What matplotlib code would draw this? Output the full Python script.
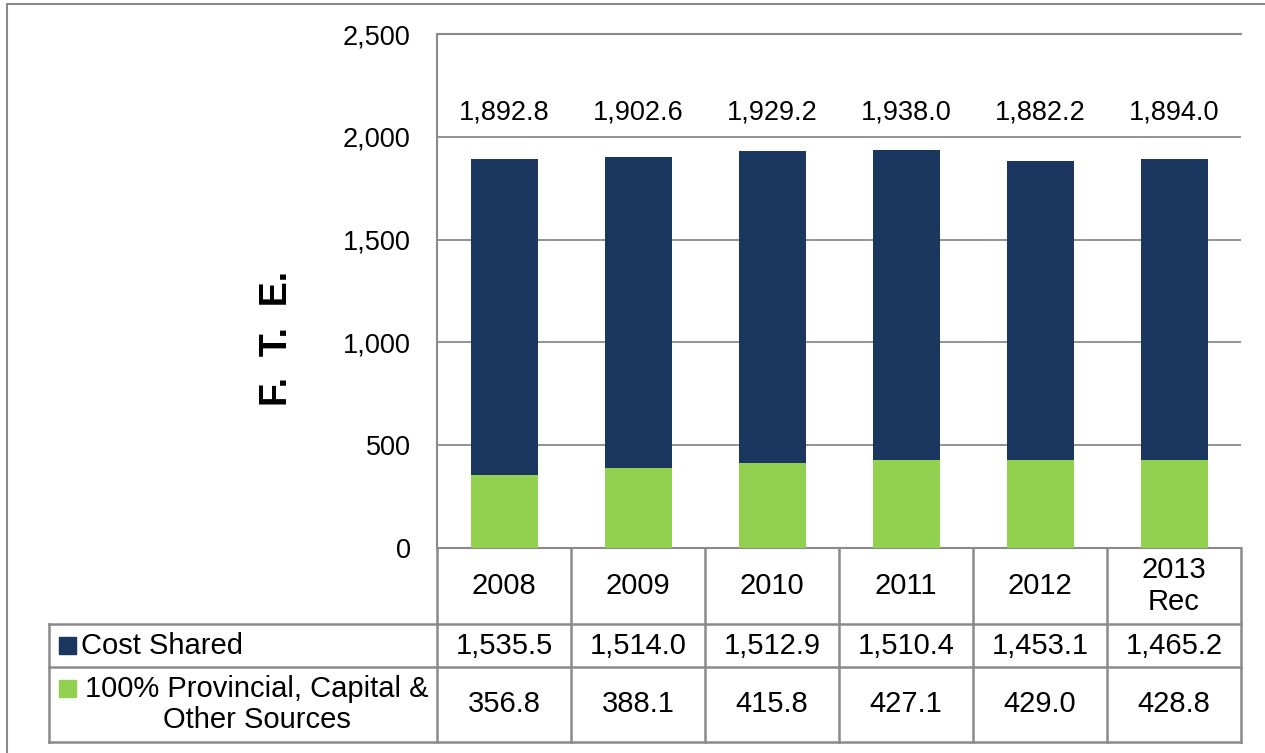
# FTE chart: stacked bars with a data table underneath
import numpy as np
import matplotlib.pyplot as plt
from matplotlib.ticker import FuncFormatter
from matplotlib.patches import Rectangle

plt.rcParams['font.family'] = ['Liberation Sans', 'DejaVu Sans']

# ---------- data ----------
years = ["2008", "2009", "2010", "2011", "2012", "2013\nRec"]
cost_shared = [1535.5, 1514.0, 1512.9, 1510.4, 1453.1, 1465.2]
provincial = [356.8, 388.1, 415.8, 427.1, 429.0, 428.8]
totals = [1892.8, 1902.6, 1929.2, 1938.0, 1882.2, 1894.0]
series_names = ["Cost Shared", "100% Provincial, Capital &\nOther Sources"]

NAVY = "#1b375f"
GREEN = "#92d050"
GRID = "#8a8a8a"
FS = 19.5      # ticks + total labels
FS_TBL = 21    # table text

W, H = 1265, 753
fig = plt.figure(figsize=(W / 100, H / 100), dpi=100)

# overlay in pixel coordinates for border + table
ov = fig.add_axes([0, 0, 1, 1])
ov.set_xlim(0, W)
ov.set_ylim(H, 0)
ov.axis("off")

# ---------- main chart ----------
left, right, top, bottom = 437, 1241, 34, 548
ax = fig.add_axes([left / W, (H - bottom) / H, (right - left) / W, (bottom - top) / H])
x = np.arange(len(years))
ax.bar(x, provincial, width=0.5, color=GREEN, zorder=3)
ax.bar(x, cost_shared, width=0.5, bottom=provincial, color=NAVY, zorder=3)

label_y = 2120
for xi, t in zip(x, totals):
    ax.text(xi, label_y, f"{t:,.1f}", ha="center", va="center", fontsize=FS)

ax.set_xlim(-0.5, len(years) - 0.5)
ax.set_ylim(0, 2500)
ax.set_yticks(np.arange(0, 2501, 500))
ax.yaxis.set_major_formatter(FuncFormatter(lambda v, p: f"{v:,.0f}"))
ax.tick_params(axis="y", length=0, labelsize=FS, pad=19)
ax.set_xticks([])
ax.grid(axis="y", color=GRID, lw=1.3, zorder=0)
for s in ["left", "top", "bottom"]:
    ax.spines[s].set_color(GRID)
    ax.spines[s].set_linewidth(1.5)
ax.spines["right"].set_visible(False)

fig.text(277 / W, 1 - 338 / H, "F.  T.  E.", rotation=90, fontsize=27,
         fontweight="bold", ha="center", va="center")

# ---------- outer border ----------
ov.plot([7, 7, W], [H, 4, 4], color=GRID, lw=1.5)

# ---------- table ----------
fig.canvas.draw()
edges = [ax.transData.transform((xi - 0.5, 0))[0] / fig.dpi * 100 for xi in range(len(years) + 1)]
tbl_left = 49
row_lines = [548, 624, 667, 742]
lc = dict(color=GRID, lw=1.8)

for yl in row_lines[1:]:
    ov.plot([tbl_left, edges[-1]], [yl, yl], **lc)
for e in edges:
    ov.plot([e, e], [row_lines[0], row_lines[-1]], **lc)
ov.plot([tbl_left, tbl_left], [row_lines[1], row_lines[-1]], **lc)

year_y = (row_lines[0] + row_lines[1]) / 2
cs_y = (row_lines[1] + row_lines[2]) / 2
pv_y = (row_lines[2] + row_lines[3]) / 2
for i, yr in enumerate(years):
    cx = (edges[i] + edges[i + 1]) / 2
    ov.text(cx, year_y, yr, ha="center", va="center", fontsize=FS_TBL, linespacing=1.15)
    ov.text(cx, cs_y, f"{cost_shared[i]:,.1f}", ha="center", va="center", fontsize=FS_TBL)
    ov.text(cx, pv_y, f"{provincial[i]:,.1f}", ha="center", va="center", fontsize=FS_TBL)

# legend keys in the row headers
ov.add_patch(Rectangle((59, cs_y - 8.5), 17, 17, color=NAVY))
ov.text(81, cs_y, series_names[0], ha="left", va="center", fontsize=FS_TBL)
ov.add_patch(Rectangle((59, pv_y - 24.5), 17, 17, color=GREEN))
ov.text(257, pv_y, series_names[1], ha="center", va="center", fontsize=FS_TBL,
        multialignment="center", linespacing=1.15)

fig.savefig("out.png", dpi=100)
